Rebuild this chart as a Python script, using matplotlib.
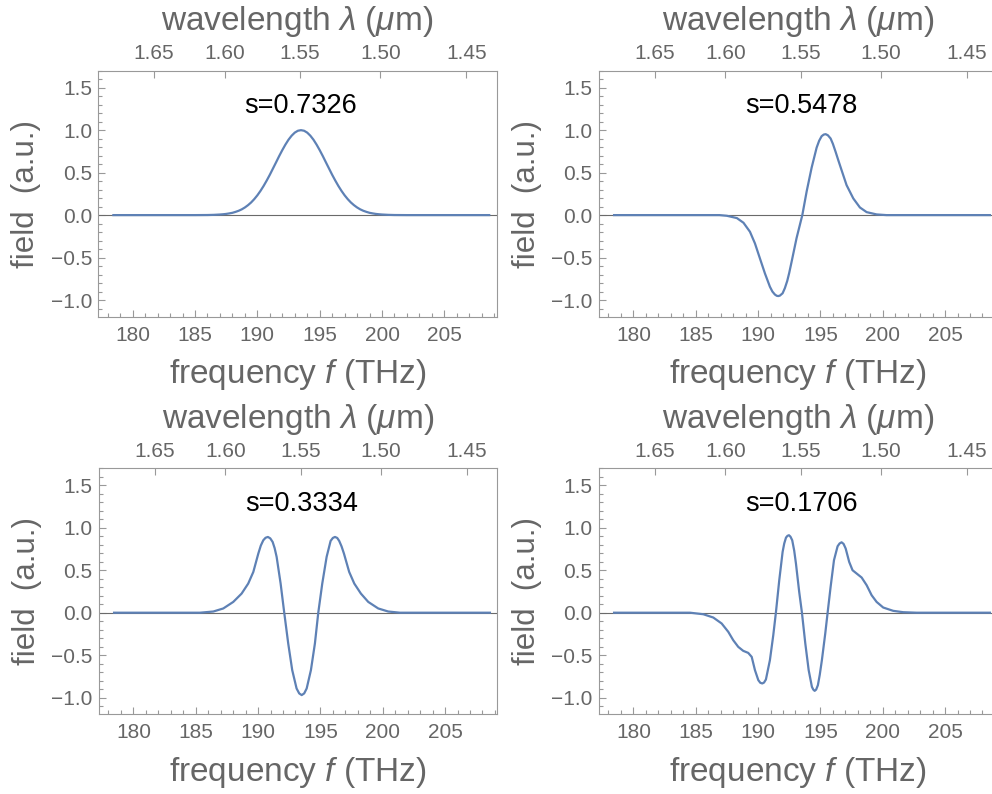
import numpy as np
import matplotlib
matplotlib.use("Agg")
import matplotlib.pyplot as plt
from matplotlib.ticker import MultipleLocator, FixedLocator, FixedFormatter, FuncFormatter

plt.rcParams["font.family"] = ["Liberation Sans", "DejaVu Sans"]
plt.rcParams["mathtext.fontset"] = "custom"
plt.rcParams["mathtext.rm"] = "Liberation Sans"
plt.rcParams["mathtext.it"] = "Liberation Sans:italic"

C_UM_THZ = 299.792458  # speed of light in um*THz

# spectral field of each mode, frequency in THz
freq_s1 = [178.45, 185.0, 186.0, 186.5, 187.0, 187.25, 187.5, 187.75, 188.0, 188.25,
           188.5, 188.75, 189.0, 189.25, 189.5, 189.75, 190.0, 190.25, 190.5, 190.75,
           191.0, 191.25, 191.5, 191.75, 192.0, 192.25, 192.5, 192.75, 193.0, 193.25,
           193.5, 193.75, 194.0, 194.25, 194.5, 194.75, 195.0, 195.25, 195.5, 195.75,
           196.0, 196.25, 196.5, 196.75, 197.0, 197.25, 197.5, 197.75, 198.0, 198.25,
           198.5, 198.75, 199.0, 199.25, 199.5, 199.75, 200.0, 200.5, 201.0, 202.0,
           208.6]
field_s1 = [0.0, 0.0, 0.001, 0.003, 0.007, 0.010, 0.014, 0.020, 0.027, 0.038,
            0.051, 0.068, 0.090, 0.117, 0.149, 0.188, 0.233, 0.285, 0.343, 0.407,
            0.475, 0.548, 0.621, 0.695, 0.765, 0.830, 0.888, 0.935, 0.971, 0.993,
            1.0, 0.993, 0.971, 0.935, 0.888, 0.830, 0.765, 0.695, 0.621, 0.548,
            0.475, 0.407, 0.343, 0.285, 0.233, 0.188, 0.149, 0.117, 0.090, 0.068,
            0.051, 0.038, 0.027, 0.020, 0.014, 0.010, 0.007, 0.003, 0.001, 0.0,
            0.0]

freq_s2 = [178.45, 186.9, 187.5, 188.3, 188.83, 189.35, 189.75, 190.15, 190.55,
           190.95, 191.15, 191.35, 191.5, 191.62, 191.75, 191.97, 192.15, 192.34,
           192.5, 192.69, 193.09, 193.55, 193.9, 194.3, 194.7, 194.9, 195.1,
           195.27, 195.42, 195.6, 195.82, 196.0, 196.22, 196.45, 196.7, 197.1,
           197.64, 198.17, 198.71, 199.51, 200.3, 208.6]
field_s2 = [0.0, 0.0, -0.008, -0.035, -0.09, -0.196, -0.333, -0.51, -0.686,
            -0.843, -0.90, -0.935, -0.95, -0.953, -0.948, -0.92, -0.86, -0.775,
            -0.68, -0.55, -0.27, 0.0, 0.28, 0.56, 0.795, 0.875, 0.929,
            0.948, 0.953, 0.94, 0.902, 0.84, 0.745, 0.64, 0.529, 0.353,
            0.196, 0.09, 0.035, 0.008, 0.0, 0.0]

freq_s3 = [178.45, 185.34, 186.41, 187.21, 188.01, 188.68, 189.21, 189.62, 190.02,
           190.22, 190.42, 190.6, 190.79, 190.98, 191.17, 191.33, 191.49, 191.81,
           192.1, 192.42, 192.74, 193.09, 193.3, 193.5, 193.7, 193.9, 194.24,
           194.56, 194.83, 195.15, 195.5, 195.82, 196.0, 196.17, 196.35, 196.51,
           196.7, 196.89, 197.31, 197.72, 198.25, 198.84, 199.64, 200.44,
           201.38, 208.6]
field_s3 = [0.0, 0.0, 0.014, 0.05, 0.127, 0.225, 0.343, 0.48, 0.696,
            0.79, 0.853, 0.882, 0.892, 0.875, 0.833, 0.76, 0.657, 0.343,
            0.0, -0.363, -0.676, -0.892, -0.95, -0.97, -0.95, -0.892, -0.676,
            -0.363, 0.0, 0.343, 0.657, 0.845, 0.88, 0.892, 0.88, 0.845,
            0.78, 0.696, 0.48, 0.343, 0.225, 0.127, 0.05, 0.014,
            0.0, 0.0]

freq_s4 = [178.45, 184.54, 185.61, 186.41, 187.08, 187.61, 188.01, 188.41, 188.81,
           189.21, 189.49, 189.75, 190.02, 190.18, 190.34, 190.48, 190.63, 190.95,
           191.22, 191.43, 191.7, 191.97, 192.1, 192.24, 192.36, 192.48, 192.6,
           192.74, 192.9, 193.04, 193.3, 193.52, 193.79, 194.06, 194.32, 194.43,
           194.54, 194.66, 194.8, 194.95, 195.12, 195.39, 195.58, 195.82, 196.09,
           196.38, 196.54, 196.7, 196.86, 197.03, 197.31, 197.58, 197.91, 198.31,
           198.71, 199.11, 199.51, 200.04, 200.84, 201.64, 202.72, 208.6]
field_s4 = [0.0, 0.0, -0.018, -0.057, -0.127, -0.225, -0.324, -0.402, -0.449,
            -0.473, -0.52, -0.676, -0.794, -0.825, -0.833, -0.822, -0.786, -0.559,
            -0.265, 0.0, 0.382, 0.716, 0.815, 0.884, 0.905, 0.912, 0.895,
            0.853, 0.73, 0.578, 0.245, 0.0, -0.363, -0.676, -0.873, -0.905,
            -0.92, -0.905, -0.853, -0.73, -0.559, -0.245, 0.0, 0.304, 0.618,
            0.782, 0.815, 0.829, 0.81, 0.755, 0.598, 0.5, 0.461, 0.414,
            0.324, 0.206, 0.127, 0.061, 0.022, 0.006, 0.0, 0.0]

s_values = ["0.7326", "0.5478", "0.3334", "0.1706"]
freqs = [freq_s1, freq_s2, freq_s3, freq_s4]
fields = [field_s1, field_s2, field_s3, field_s4]

wl_ticks = [1.65, 1.60, 1.55, 1.50, 1.45]

TEXT = "#666666"
FRAME = "#999999"
LINE = "#5e81b5"

minus_fmt = FuncFormatter(lambda v, pos: ("%.1f" % v).replace("-", "\u2212"))

fig = plt.figure(figsize=(9.92, 7.94), dpi=100)
W, H = 992.0, 794.0
# panel frames in pixels: left, top
frames = [(98.3, 70.7), (599.0, 70.7), (99.0, 468.3), (599.0, 468.3)]
pw, ph = 398.4, 246.0

for k in range(4):
    x0, y0 = frames[k]
    ax = fig.add_axes([x0 / W, (H - y0 - ph) / H, pw / W, ph / H])
    ax.plot(freqs[k], fields[k], color=LINE, lw=1.6, zorder=3,
            solid_joinstyle="round")
    ax.axhline(0, color="#6a6a6a", lw=0.8, zorder=2)
    ax.set_xlim(177.24, 209.2)
    ax.set_ylim(-1.196, 1.70)
    ax.text(193.5, 1.28, "s=" + s_values[k], ha="center", va="center",
            fontsize=19.5, color="black")

    ax.xaxis.set_major_locator(MultipleLocator(5))
    ax.xaxis.set_minor_locator(MultipleLocator(1))
    ax.yaxis.set_major_locator(MultipleLocator(0.5))
    ax.yaxis.set_minor_locator(MultipleLocator(0.1))
    ax.yaxis.set_major_formatter(minus_fmt)
    ax.tick_params(which="both", direction="in", colors=FRAME, labelcolor=TEXT,
                   labelsize=15, top=False, right=False, width=0.8)
    ax.tick_params(which="major", length=5)
    ax.tick_params(axis="x", which="major", pad=6.5)
    ax.tick_params(axis="y", which="major", pad=4.5)
    ax.tick_params(which="minor", length=2.8)
    for sp in ax.spines.values():
        sp.set_color(FRAME)
        sp.set_linewidth(0.8)

    ax.set_xlabel("frequency $f$ (THz)", fontsize=24, color=TEXT, labelpad=9)
    ax.set_ylabel("field  (a.u.)", fontsize=22.5, color=TEXT, labelpad=7)

    # wavelength axis on top
    top = ax.twiny()
    top.set_xlim(ax.get_xlim())
    top.xaxis.set_major_locator(FixedLocator([C_UM_THZ / w for w in wl_ticks]))
    top.xaxis.set_major_formatter(FixedFormatter(["%.2f" % w for w in wl_ticks]))
    top.xaxis.set_minor_locator(FixedLocator([]))
    top.tick_params(which="both", direction="in", colors=FRAME, labelcolor=TEXT,
                    labelsize=15, length=5, width=0.8, pad=5.5)
    for sp in top.spines.values():
        sp.set_visible(False)
    top.set_xlabel(r"wavelength $\lambda$ ($\mu$m)", fontsize=24, color=TEXT,
                   labelpad=10)

fig.savefig("out.png", dpi=100)
